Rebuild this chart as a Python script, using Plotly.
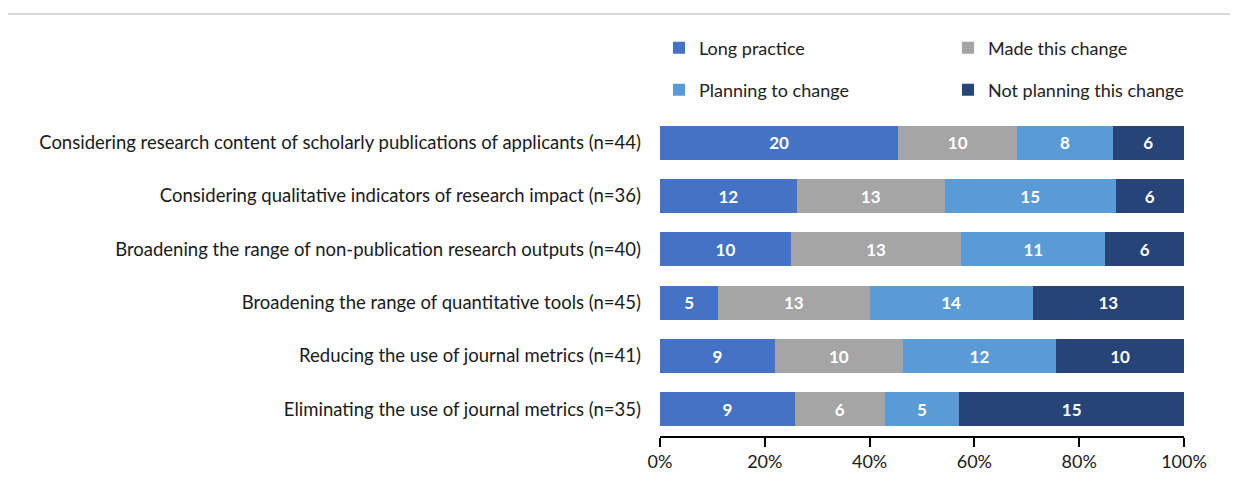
import plotly.graph_objects as go

categories = [
    "Considering research content of scholarly publications of applicants (n=44)",
    "Considering qualitative indicators of research impact (n=36)",
    "Broadening the range of non-publication research outputs (n=40)",
    "Broadening the range of quantitative tools (n=45)",
    "Reducing the use of journal metrics (n=41)",
    "Eliminating the use of journal metrics (n=35)",
]
series_names = ["Long practice", "Made this change", "Planning to change", "Not planning this change"]
long_practice = [20, 12, 10, 5, 9, 9]
made_change = [10, 13, 13, 13, 10, 6]
planning = [8, 15, 11, 14, 12, 5]
not_planning = [6, 6, 6, 13, 10, 15]
x_ticks = [0, 20, 40, 60, 80, 100]
x_tick_labels = ["0%", "20%", "40%", "60%", "80%", "100%"]

colors = ["#4472C4", "#A5A5A5", "#5B9BD5", "#264478"]
series = [long_practice, made_change, planning, not_planning]
totals = [sum(v) for v in zip(*series)]

FONT = "Lato"
# page body has an 8px margin, so the figure is drawn 8px in from the window
W, H = 1230, 481
ML, MR, MT, MB = 652, 54, 108, 53

legend_ids = ["legend", "legend2", "legend3", "legend4"]
legend_pos = [(651, 40), (940, 40), (651, 82), (940, 82)]

fig = go.Figure()
for name, vals, col, lg in zip(series_names, series, colors, legend_ids):
    pct = [v / t * 100 for v, t in zip(vals, totals)]
    fig.add_trace(go.Bar(
        y=categories, x=pct, name=name, orientation="h",
        marker=dict(color=col, line=dict(width=0)),
        text=[str(v) for v in vals], textposition="inside",
        insidetextanchor="middle",
        textfont=dict(family=FONT, size=17, color="white", weight="bold"),
        legend=lg, showlegend=True, hoverinfo="skip",
    ))

leg_layout = {}
for lg, (lx, ly) in zip(legend_ids, legend_pos):
    leg_layout[lg] = dict(orientation="h", xref="container", x=lx / W, xanchor="left",
                          yref="container", y=1 - ly / H, yanchor="middle",
                          font=dict(family=FONT, size=18, color="#222"),
                          bgcolor="rgba(0,0,0,0)")

fig.update_layout(
    width=W, height=H, showlegend=True,
    barmode="stack", bargap=0.36,
    plot_bgcolor="white", paper_bgcolor="white",
    margin=dict(l=ML, r=MR, t=MT, b=MB, autoexpand=False),
    font=dict(family=FONT, size=17, color="#1a1a1a"),
    uniformtext=dict(minsize=10, mode="show"),
    xaxis=dict(range=[0, 100], tickvals=x_ticks, ticktext=x_tick_labels,
               showgrid=False, zeroline=False, showline=True, linecolor="black",
               linewidth=1.5, ticks="outside", ticklen=9, tickwidth=1.5,
               tickcolor="black", tickfont=dict(size=18, color="#1a1a1a"),
               automargin=False),
    yaxis=dict(autorange="reversed", showgrid=False, showline=False, ticks="",
               ticklabelstandoff=18, tickfont=dict(size=18.5, color="#1a1a1a"),
               automargin=False),
    **leg_layout,
)

ph = H - MT - MB
pw = W - ML - MR
fig.add_shape(type="line", xref="paper", yref="paper",
              x0=-(ML - 0) / pw, x1=1 + MR / pw,
              y0=1 + (MT - 6) / ph, y1=1 + (MT - 6) / ph,
              line=dict(color="#d9d9d9", width=2))

fig.write_html("out.html")
